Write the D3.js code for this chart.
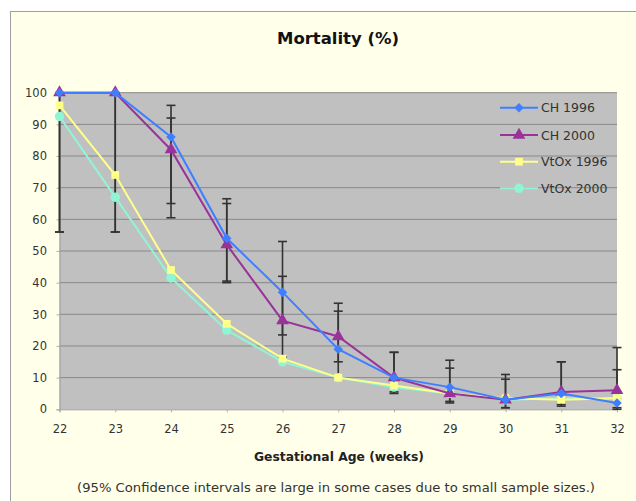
<!DOCTYPE html>
<html><head><meta charset="utf-8">
<script src="https://cdn.jsdelivr.net/npm/d3@7"></script>
<style>
html,body{margin:0;padding:0;background:#fff;}
svg{display:block;font-family:"DejaVu Sans",Verdana,sans-serif;}
</style></head>
<body>
<svg id="c" width="636" height="501"></svg>
<script>
const weeks = [22,23,24,25,26,27,28,29,30,31,32];
const ch1996 = [100,100,86,54,37,19,10,7,3,5,2];
const ch2000 = [100,100,82,52,28,23,10,5,3,5.5,6];
const vtox1996 = [96,74,44,27,16,10,7.5,5,3.5,3,3.5];
const vtox2000 = [92.5,67,41.5,25,15,10,7,5,3,3.5,3.5];
const ch1996Lo = [56,56,65,40.5,23.5,10,5,2.5,0.5,1,0];
const ch1996Hi = [100,100,96,66.5,53,31,18,15.5,11,15,12.5];
const ch2000Lo = [56,56,60.5,40,16.5,15,5.5,2,0.5,1.5,0.5];
const ch2000Hi = [100,100,92,65,42,33.5,18,13,9.5,15,19.5];
const yTicks = [0,10,20,30,40,50,60,70,80,90,100];
const seriesNames = ["CH 1996","CH 2000","VtOx 1996","VtOx 2000"];

const svg = d3.select("#c");
svg.append("rect").attr("x",10.5).attr("y",11.5).attr("width",640).attr("height",500)
  .attr("fill","#FFFFEA").attr("stroke","#A0A0A0").attr("stroke-width",1);

const L=59.5, R=617, T=92.7, B=409.3;
const x = d3.scaleLinear().domain([22,32]).range([L,R]);
const y = d3.scaleLinear().domain([0,100]).range([B,T]);

svg.append("rect").attr("x",L).attr("y",T).attr("width",R-L).attr("height",B-T).attr("fill","#C0C0C0");

svg.append("g").selectAll("line").data(yTicks.filter(d=>d>0)).join("line")
  .attr("x1",L).attr("x2",R).attr("y1",d=>y(d)).attr("y2",d=>y(d))
  .attr("stroke","#888").attr("stroke-width",1);

const yAxis = svg.append("g").attr("transform",`translate(${L},0)`)
  .call(d3.axisLeft(y).tickValues(yTicks).tickSize(3).tickPadding(9.5));
const xAxis = svg.append("g").attr("transform",`translate(0,${B})`)
  .call(d3.axisBottom(x).tickValues(weeks).tickSize(3).tickPadding(13).tickFormat(d3.format("d")));
[yAxis,xAxis].forEach(g=>{
  g.select(".domain").attr("stroke","#9a9a9a");
  g.selectAll(".tick line").attr("stroke","#b0b0b0");
  g.selectAll("text").attr("fill","#333").style("font-family","DejaVu Sans").style("font-size","11.5px");
});

const errs = [[ch1996,ch1996Lo,ch1996Hi],[ch2000,ch2000Lo,ch2000Hi]];
const eg = svg.append("g").attr("stroke","#333").attr("stroke-width",1.6);
errs.forEach(([v,lo,hi])=>{
  weeks.forEach((w,i)=>{
    eg.append("line").attr("x1",x(w)).attr("x2",x(w)).attr("y1",y(lo[i])).attr("y2",y(hi[i]));
    [lo[i],hi[i]].forEach(e=>{
      eg.append("line").attr("x1",x(w)-4.5).attr("x2",x(w)+4.5).attr("y1",y(e)).attr("y2",y(e));
    });
  });
});

const series = [
  {name:seriesNames[0], vals:ch1996, color:"#3F7FFF", sym:d3.symbolSquare, size:45, rot:45},
  {name:seriesNames[1], vals:ch2000, color:"#993399", sym:d3.symbolTriangle, size:70, rot:0},
  {name:seriesNames[2], vals:vtox1996, color:"#FFFF8C", sym:d3.symbolSquare, size:60, rot:0},
  {name:seriesNames[3], vals:vtox2000, color:"#90F5D5", sym:d3.symbolCircle, size:70, rot:0}
];
const line = d3.line().x((d,i)=>x(weeks[i])).y(d=>y(d));
[...series].reverse().forEach(s=>{
  svg.append("path").datum(s.vals).attr("d",line).attr("fill","none")
    .attr("stroke",s.color).attr("stroke-width",2);
  svg.append("g").selectAll("path").data(s.vals).join("path")
    .attr("transform",(d,i)=>`translate(${x(weeks[i])},${y(d)}) rotate(${s.rot})`)
    .attr("d",d3.symbol().type(s.sym).size(s.size)).attr("fill",s.color);
});

const lg = svg.append("g");
const ly = [107.7,135,161.7,188.3];
series.forEach((s,i)=>{
  lg.append("line").attr("x1",500).attr("x2",538).attr("y1",ly[i]).attr("y2",ly[i])
    .attr("stroke",s.color).attr("stroke-width",2);
  lg.append("path").attr("transform",`translate(519,${ly[i]}) rotate(${s.rot})`)
    .attr("d",d3.symbol().type(s.sym).size(s.size)).attr("fill",s.color);
  lg.append("text").attr("x",541).attr("y",ly[i]+4.5).text(s.name)
    .attr("fill","#333").style("font-size","12.5px");
});

svg.append("text").attr("x",338).attr("y",44).attr("text-anchor","middle")
  .style("font-size","16px").style("font-weight","bold").attr("fill","#111")
  .attr("textLength",122).attr("lengthAdjust","spacingAndGlyphs").text("Mortality (%)");
svg.append("text").attr("x",339).attr("y",461).attr("text-anchor","middle")
  .style("font-size","12.5px").style("font-weight","bold").attr("fill","#222")
  .attr("textLength",170).attr("lengthAdjust","spacingAndGlyphs").text("Gestational Age (weeks)");
svg.append("text").attr("x",336).attr("y",491.5).attr("text-anchor","middle")
  .style("font-size","11.5px").attr("fill","#333")
  .attr("textLength",518).attr("lengthAdjust","spacingAndGlyphs")
  .text("(95% Confidence intervals are large in some cases due to small sample sizes.)");
</script>
</body></html>
